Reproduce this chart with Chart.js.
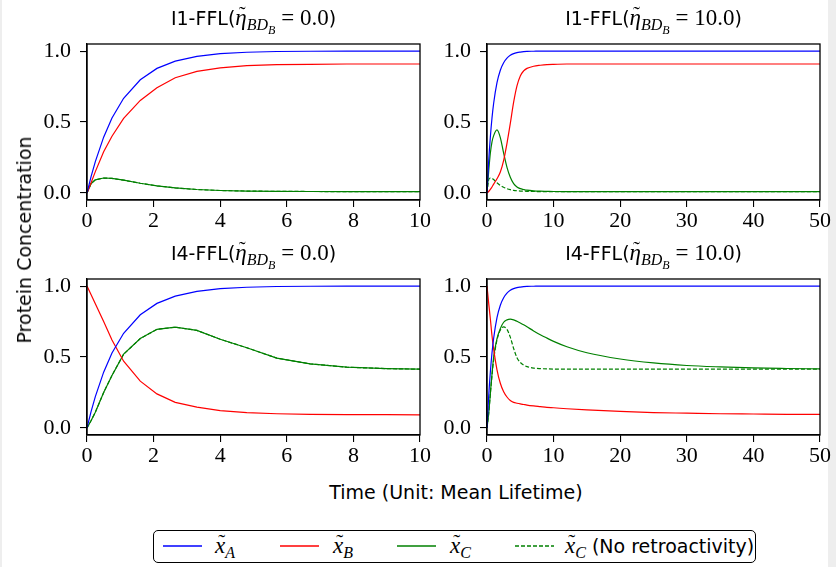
<!DOCTYPE html>
<html>
<head>
<meta charset="utf-8">
<script src="https://cdn.jsdelivr.net/npm/chart.js@4.4.1/dist/chart.umd.min.js"></script>
<style>
  html, body { margin: 0; padding: 0; background: #eeeeee; }
  #fig { position: relative; width: 836px; height: 567px; overflow: hidden; }
  #paper { position: absolute; left: 2px; top: 0; width: 826px; height: 567px; background: #fff; }
  canvas.panel { position: absolute; }
  .title { position: absolute; text-align: center; font: 19px "DejaVu Sans", sans-serif; color: #000; white-space: nowrap; line-height: 24px; }
  .m { font-family: "Liberation Serif", serif; font-size: 23px; }
  .m i { font-style: italic; }
  .m sub { font-size: 16px; vertical-align: -5px; line-height: 0; }
  .m sub sub { font-size: 12px; vertical-align: -4px; }
  .acc { position: relative; display: inline-block; font-style: italic; }
  .acc .tl { position: absolute; left: 0.16em; top: -0.2em; font-style: normal; font-size: 0.9em; }
  .ylab { position: absolute; left: 24px; top: 240px; transform: translate(-50%, -50%) rotate(-90deg); font: 19px "DejaVu Sans", sans-serif; white-space: nowrap; }
  .xlab { position: absolute; left: 456px; top: 492px; transform: translate(-50%, -50%); font: 19px "DejaVu Sans", sans-serif; white-space: nowrap; }
  #legend { position: absolute; left: 153px; top: 530px; width: 601px; height: 31px; border: 1.6px solid #000; border-radius: 5px; background: #fff; }
  #legend .sw { position: absolute; top: 10px; }
  #legend .lb { position: absolute; top: 1px; white-space: nowrap; font: 19px "DejaVu Sans", sans-serif; line-height: 28px; }
</style>
</head>
<body>
<div id="fig">
  <div id="paper"></div>
  <canvas class="panel" id="p1" width="420" height="198" style="left:20px;top:36px"></canvas>
  <canvas class="panel" id="p2" width="420" height="198" style="left:420px;top:36px"></canvas>
  <canvas class="panel" id="p3" width="420" height="198" style="left:20px;top:271px"></canvas>
  <canvas class="panel" id="p4" width="420" height="198" style="left:420px;top:271px"></canvas>

  <div class="title" style="left:87px;width:333px;top:6px">I1-FFL(<span class="m"><span class="acc">η<span class="tl">˜</span></span><sub><i>BD</i><sub><i>B</i></sub></sub> = 0.0</span>)</div>
  <div class="title" style="left:487px;width:333px;top:6px">I1-FFL(<span class="m"><span class="acc">η<span class="tl">˜</span></span><sub><i>BD</i><sub><i>B</i></sub></sub> = 10.0</span>)</div>
  <div class="title" style="left:87px;width:333px;top:241px">I4-FFL(<span class="m"><span class="acc">η<span class="tl">˜</span></span><sub><i>BD</i><sub><i>B</i></sub></sub> = 0.0</span>)</div>
  <div class="title" style="left:487px;width:333px;top:241px">I4-FFL(<span class="m"><span class="acc">η<span class="tl">˜</span></span><sub><i>BD</i><sub><i>B</i></sub></sub> = 10.0</span>)</div>

  <div class="ylab">Protein Concentration</div>
  <div class="xlab">Time (Unit: Mean Lifetime)</div>

  <div id="legend"></div>
</div>
<script>
// time grids (short runs are sampled coarsely, long runs densely)
const tShort = [0, 0.12, 0.25, 0.5, 0.75, 1.1, 1.6, 2.1, 2.65, 3.3, 4.0, 4.8, 5.7, 6.7, 7.8, 9, 10];
const tLong = [0, 0.25, 0.5, 0.75, 1, 1.5, 2, 2.5, 3, 3.5, 4, 4.5, 5, 5.5, 6, 7, 8, 9, 10, 12, 15, 20, 25, 30, 35, 40, 45, 50];

// I1-FFL, eta = 0
const i1e0_xA = [0, 0.113, 0.221, 0.393, 0.528, 0.667, 0.798, 0.878, 0.929, 0.963, 0.982, 0.992, 0.997, 0.999, 1.0, 1.0, 1.0];
const i1e0_xB = [0, 0.07, 0.15, 0.29, 0.40, 0.525, 0.652, 0.742, 0.812, 0.857, 0.882, 0.897, 0.904, 0.907, 0.909, 0.909, 0.909];
const i1e0_xC = [0, 0.065, 0.092, 0.105, 0.102, 0.09, 0.068, 0.05, 0.035, 0.024, 0.017, 0.013, 0.011, 0.01, 0.009, 0.009, 0.009];
const i1e0_xCnr = [0, 0.065, 0.092, 0.105, 0.102, 0.09, 0.068, 0.05, 0.035, 0.024, 0.017, 0.013, 0.011, 0.01, 0.009, 0.009, 0.009];

// I1-FFL, eta = 10
const i1e10_xA = [0, 0.221, 0.393, 0.528, 0.632, 0.777, 0.865, 0.918, 0.95, 0.97, 0.982, 0.989, 0.993, 0.996, 0.998, 0.999, 1, 1, 1, 1, 1, 1, 1, 1, 1, 1, 1, 1];
const i1e10_xB = [0, 0.01, 0.025, 0.042, 0.062, 0.1, 0.147, 0.23, 0.35, 0.49, 0.64, 0.755, 0.825, 0.86, 0.878, 0.893, 0.9, 0.905, 0.907, 0.909, 0.909, 0.909, 0.909, 0.909, 0.909, 0.909, 0.909, 0.909];
const i1e10_xC = [0, 0.15, 0.28, 0.36, 0.404, 0.444, 0.39, 0.28, 0.18, 0.11, 0.065, 0.042, 0.03, 0.024, 0.019, 0.014, 0.012, 0.011, 0.01, 0.009, 0.009, 0.009, 0.009, 0.009, 0.009, 0.009, 0.009, 0.009];
const i1e10_xCnr = [0, 0.092, 0.105, 0.102, 0.094, 0.072, 0.053, 0.04, 0.03, 0.023, 0.018, 0.015, 0.013, 0.012, 0.011, 0.01, 0.0095, 0.009, 0.009, 0.009, 0.009, 0.009, 0.009, 0.009, 0.009, 0.009, 0.009, 0.009];

// I4-FFL, eta = 0
const i4e0_xA = [0, 0.113, 0.221, 0.393, 0.528, 0.667, 0.798, 0.878, 0.929, 0.963, 0.982, 0.992, 0.997, 0.999, 1.0, 1.0, 1.0];
const i4e0_xB = [1.0, 0.94, 0.875, 0.75, 0.62, 0.47, 0.33, 0.24, 0.18, 0.146, 0.122, 0.108, 0.1, 0.096, 0.094, 0.093, 0.092];
const i4e0_xC = [0, 0.05, 0.11, 0.25, 0.37, 0.52, 0.63, 0.695, 0.71, 0.688, 0.625, 0.565, 0.492, 0.452, 0.428, 0.418, 0.414];
const i4e0_xCnr = [0, 0.05, 0.11, 0.25, 0.37, 0.52, 0.63, 0.695, 0.71, 0.688, 0.625, 0.565, 0.492, 0.452, 0.428, 0.418, 0.414];

// I4-FFL, eta = 10
const i4e10_xA = [0, 0.221, 0.393, 0.528, 0.632, 0.777, 0.865, 0.918, 0.95, 0.97, 0.982, 0.989, 0.993, 0.996, 0.998, 0.999, 1, 1, 1, 1, 1, 1, 1, 1, 1, 1, 1, 1];
const i4e10_xB = [1, 0.88, 0.77, 0.65, 0.555, 0.41, 0.315, 0.255, 0.218, 0.193, 0.18, 0.174, 0.169, 0.165, 0.161, 0.155, 0.15, 0.145, 0.142, 0.135, 0.127, 0.116, 0.108, 0.104, 0.1, 0.098, 0.096, 0.095];
const i4e10_xC = [0, 0.1, 0.24, 0.38, 0.5, 0.63, 0.70, 0.745, 0.762, 0.767, 0.762, 0.752, 0.74, 0.727, 0.713, 0.684, 0.657, 0.633, 0.61, 0.572, 0.53, 0.486, 0.458, 0.44, 0.43, 0.423, 0.419, 0.416];
const i4e10_xCnr = [0, 0.1, 0.24, 0.37, 0.48, 0.62, 0.69, 0.712, 0.695, 0.64, 0.56, 0.495, 0.462, 0.443, 0.432, 0.422, 0.418, 0.416, 0.415, 0.414, 0.414, 0.414, 0.414, 0.414, 0.414, 0.414, 0.414, 0.414];

const yTicks = [0, 0.5, 1.0];
const C_A = "#0000ff", C_B = "#ff0000", C_C = "#008000";
const LW = 1.2;

// top/right spines — chart.js only draws the axis borders
const frame = {
  id: "frame",
  afterDraw(chart) {
    const a = chart.chartArea, ctx = chart.ctx;
    ctx.save();
    ctx.strokeStyle = "#000";
    ctx.lineWidth = 1.3;
    ctx.strokeRect(a.left, a.top, a.right - a.left, a.bottom - a.top);
    ctx.restore();
  },
};

function pts(t, y) { return t.map((x, i) => ({ x, y: y[i] })); }

function panel(id, t, xA, xB, xC, xCnr, xmax, step, smooth) {
  const ds = (data, color, dash) => ({
    data: pts(t, data), borderColor: color, borderWidth: LW, borderDash: dash || [],
    pointRadius: 0, fill: false, tension: 0,
    cubicInterpolationMode: smooth ? "monotone" : "default",
  });
  const tickFont = { family: "'Liberation Serif', serif", size: 22 };
  const axisCommon = {
    border: { display: true, color: "#000", width: 1.3 },
    grid: { display: true, drawOnChartArea: false, drawTicks: true, tickLength: 7, color: "#000", lineWidth: 1.1 },
  };
  return new Chart(document.getElementById(id), {
    type: "line",
    data: { datasets: [ds(xA, C_A), ds(xB, C_B), ds(xC, C_C), ds(xCnr, C_C, [4, 2])] },
    plugins: [frame],
    options: {
      responsive: false, animation: false, parsing: false,
      layout: { padding: { top: 8, right: 20, left: 0, bottom: 0 } },
      plugins: { legend: { display: false }, tooltip: { enabled: false } },
      scales: {
        x: {
          type: "linear", min: 0, max: xmax, ...axisCommon,
          ticks: { stepSize: step, color: "#000", font: tickFont, padding: 1, maxRotation: 0 },
          afterFit: (s) => { s.height = 34; s.paddingLeft = 0; s.paddingRight = 0; },
        },
        y: {
          type: "linear", min: -0.05, max: 1.05, ...axisCommon,
          ticks: { color: "#000", font: tickFont, padding: 9, callback: (v) => v.toFixed(1) },
          afterBuildTicks: (s) => { s.ticks = yTicks.map((v) => ({ value: v })); },
          afterFit: (s) => { s.width = 67; s.paddingTop = 0; s.paddingBottom = 0; },
        },
      },
    },
  });
}

panel("p1", tShort, i1e0_xA, i1e0_xB, i1e0_xC, i1e0_xCnr, 10, 2, false);
panel("p2", tLong, i1e10_xA, i1e10_xB, i1e10_xC, i1e10_xCnr, 50, 10, true);
panel("p3", tShort, i4e0_xA, i4e0_xB, i4e0_xC, i4e0_xCnr, 10, 2, false);
panel("p4", tLong, i4e10_xA, i4e10_xB, i4e10_xC, i4e10_xCnr, 50, 10, true);

// legend row
const legendItems = [
  { color: C_A, dash: "", sub: "A", extra: "", sx: 9, lx: 61 },
  { color: C_B, dash: "", sub: "B", extra: "", sx: 126, lx: 179 },
  { color: C_C, dash: "", sub: "C", extra: "", sx: 243, lx: 296 },
  { color: C_C, dash: "4 2", sub: "C", extra: " (No retroactivity)", sx: 361, lx: 411 },
];
const leg = document.getElementById("legend");
legendItems.forEach((it) => {
  leg.insertAdjacentHTML("beforeend",
    `<svg class="sw" style="left:${it.sx}px" width="40" height="10"><line x1="0" y1="5" x2="39" y2="5" stroke="${it.color}" stroke-width="1.3" stroke-dasharray="${it.dash}"/></svg>` +
    `<div class="lb" style="left:${it.lx}px"><span class="m"><span class="acc">x<span class="tl">˜</span></span><sub><i>${it.sub}</i></sub></span>${it.extra}</div>`);
});
</script>
</body>
</html>
